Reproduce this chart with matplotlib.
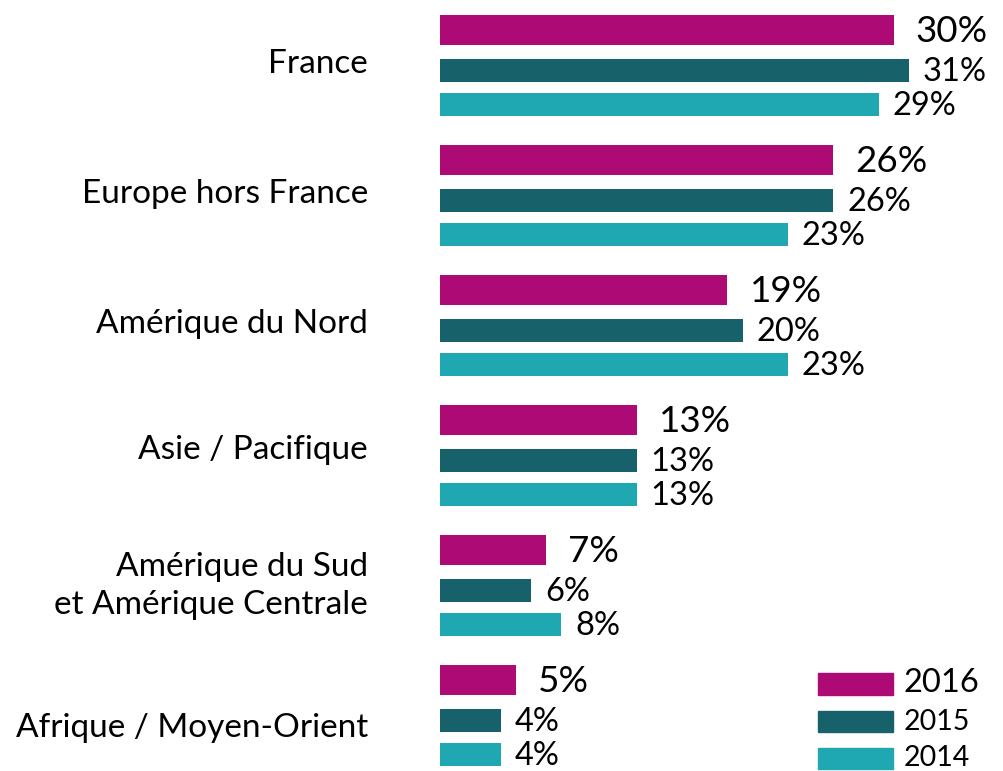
import matplotlib
matplotlib.use("Agg")
import matplotlib.pyplot as plt
from matplotlib.patches import Patch

categories = ["France", "Europe hors France", "Amérique du Nord", "Asie / Pacifique",
              "Amérique du Sud\net Amérique Centrale", "Afrique / Moyen-Orient"]
years = ["2016", "2015", "2014"]
v2016 = [30, 26, 19, 13, 7, 5]
v2015 = [31, 26, 20, 13, 6, 4]
v2014 = [29, 23, 23, 13, 8, 4]
series = [v2016, v2015, v2014]
colors = ["#AD0A76", "#17626A", "#20A8B2"]

W, H = 1004, 771
fig = plt.figure(figsize=(W / 100, H / 100), dpi=100)
plt.rcParams['font.family'] = ['Lato', 'DejaVu Sans']

px_per_pct = 15.13
x0 = 440
ax = fig.add_axes([x0 / W, 0, (W - x0) / W, 1])
ax.set_xlim(0, (W - x0) / px_per_pct)
ax.set_ylim(H, 0)
ax.axis("off")

group_start = 30
group_step = 130
offsets = [0, 40, 74]
heights = [30, 23, 23]
label_sizes = [26.5, 23.5, 23.5]
label_gap = [22, 14, 14]
cat_y_shift = [34, 34, 34, 30, 36, 48]

for gi, cat in enumerate(categories):
    base = group_start + gi * group_step
    for si, vals in enumerate(series):
        y = base + offsets[si]
        ax.barh(y, vals[gi], height=heights[si], color=colors[si], left=0)
        ax.text(vals[gi] + label_gap[si] / px_per_pct, y + 2, f"{vals[gi]}%", va="center",
                ha="left", fontsize=label_sizes[si], color="black")
    ax.text(-72 / px_per_pct, base + cat_y_shift[gi], cat, va="center", ha="right", fontsize=24,
            color="black", linespacing=1.3)

handles = [Patch(color=c) for c in colors]
leg = fig.legend(handles, years, loc="lower right", bbox_to_anchor=(0.997, -0.028), frameon=False,
                 fontsize=17, handlelength=3.2, handleheight=1.0, handletextpad=0.45,
                 labelspacing=0.45)
for t, s in zip(leg.get_texts(), [23.5, 20.5, 20.5]):
    t.set_fontsize(s)

fig.savefig("out.png", dpi=100)
